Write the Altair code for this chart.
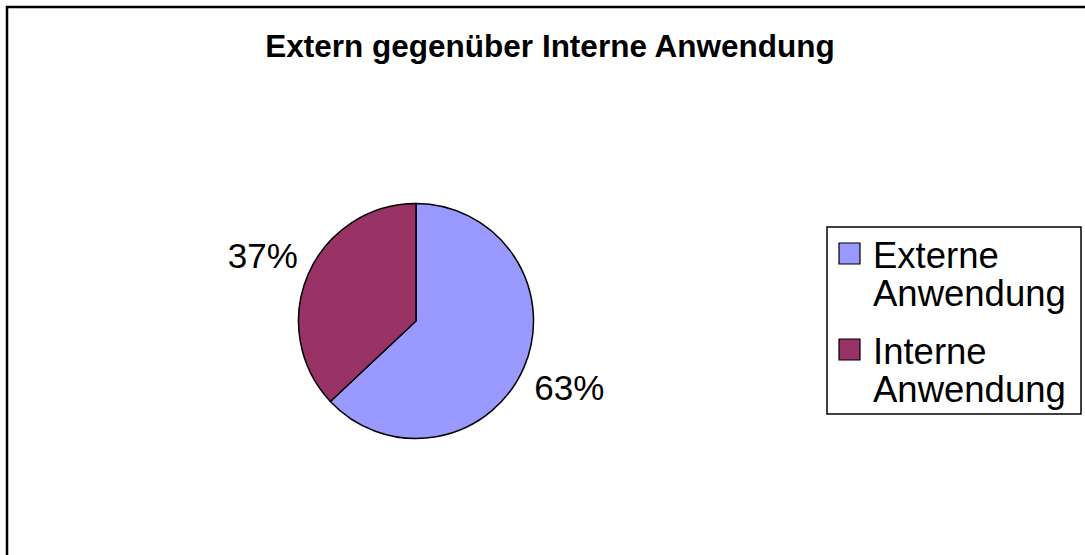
import altair as alt
import pandas as pd

title_text = "Extern gegenüber Interne Anwendung"
categories = ["Externe Anwendung", "Interne Anwendung"]
values = [63, 37]
colors = ["#9999FF", "#993366"]

df = pd.DataFrame({"category": categories, "value": values})
FONT = "Liberation Sans"

base = alt.Chart(df)

color_enc = alt.Color("category:N", scale=alt.Scale(domain=categories, range=colors), legend=None)
order_enc = alt.Order("category:N", sort="ascending")

frame = alt.Chart(pd.DataFrame({"a": [0]})).mark_rect(
    fill="white", stroke="black", strokeWidth=2.5
).encode(x=alt.value(7), x2=alt.value(1095), y=alt.value(7), y2=alt.value(570))

title = alt.Chart(pd.DataFrame({"t": [title_text]})).mark_text(
    font=FONT, fontSize=31.5, fontWeight="bold", align="center", baseline="alphabetic", color="black"
).encode(text="t:N", x=alt.value(550), y=alt.value(57))

pie = base.mark_arc(outerRadius=117.5, stroke="black", strokeWidth=1.5).encode(
    theta=alt.Theta("value:Q", stack=True),
    color=color_enc,
    order=order_enc,
    x=alt.value(416),
    y=alt.value(321),
)

labels = base.transform_calculate(lbl="datum.value + '%'").mark_text(
    radius=167, font=FONT, fontSize=35, color="black", align="center", baseline="middle", dy=2
).encode(
    theta=alt.Theta("value:Q", stack=True),
    detail="category:N",
    order=order_enc,
    text="lbl:N",
    x=alt.value(416),
    y=alt.value(321),
)

legend_box = alt.Chart(pd.DataFrame({"a": [0]})).mark_rect(
    fill="white", stroke="black", strokeWidth=1.5
).encode(x=alt.value(827), x2=alt.value(1081), y=alt.value(227), y2=alt.value(414))

yscale = alt.Scale(domain=categories, range=[253.5, 349.5], type="point", padding=0)

legend_sym = base.mark_square(size=441, opacity=1, filled=True, stroke="black", strokeWidth=1.2).encode(
    x=alt.value(849.5),
    y=alt.Y("category:N", scale=yscale, axis=None),
    color=color_enc,
)

legend_txt = base.mark_text(
    font=FONT, fontSize=36.5, align="left", baseline="alphabetic", lineBreak=" ", lineHeight=38,
    dy=14.5, color="black"
).encode(
    x=alt.value(873),
    y=alt.Y("category:N", scale=yscale, axis=None),
    text="category:N",
)

chart = alt.layer(frame, title, pie, labels, legend_box, legend_sym, legend_txt).properties(
    width=1085, height=555, autosize=alt.AutoSizeParams(type="none"), padding=0
).configure_view(stroke=None)

chart.save("out.html", embed_options={"renderer": "svg", "actions": False})
